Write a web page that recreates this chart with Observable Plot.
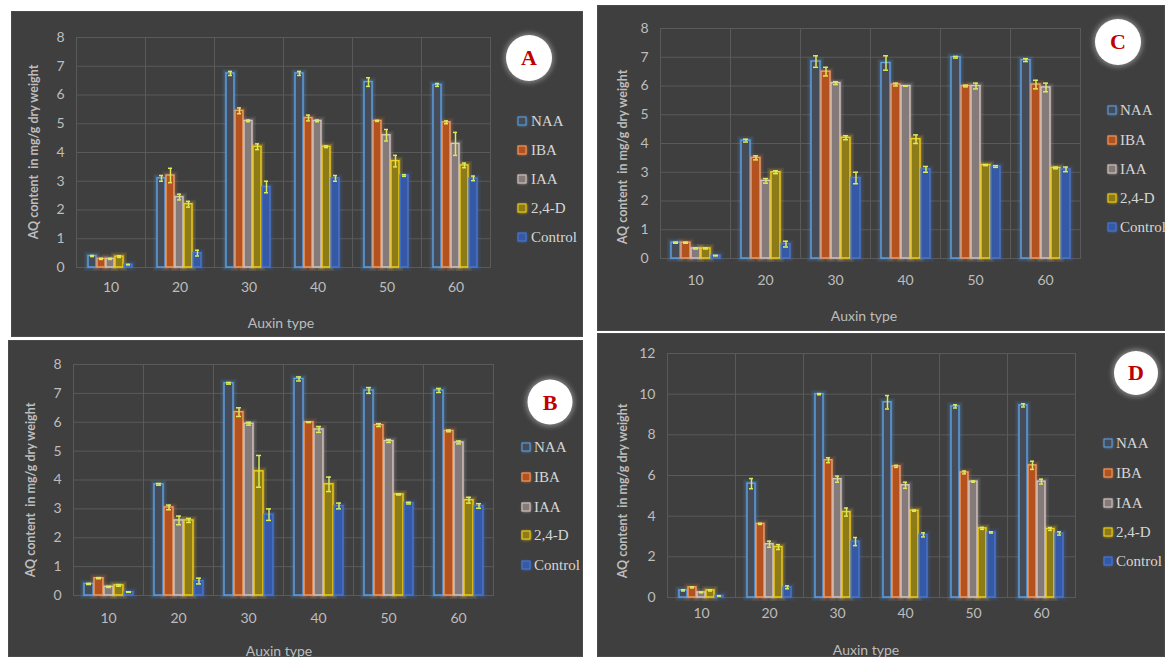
<!DOCTYPE html>
<html>
<head>
<meta charset="utf-8">
<script src="https://cdn.jsdelivr.net/npm/d3@7"></script>
<script src="https://cdn.jsdelivr.net/npm/@observablehq/plot@0.6"></script>
<style>
  html, body { margin: 0; padding: 0; background: #ffffff; }
  body { width: 1165px; height: 657px; overflow: hidden; position: relative; font-family: Lato, "Open Sans", sans-serif; }
  .panel { position: absolute; background: #3f3f3f; overflow: hidden; box-shadow: inset 0 0 0 1px #4b4b4b; }
  .panel svg { position: absolute; left: 0; top: 0; }
  .ytitle { position: absolute; transform: translate(-50%, -50%) rotate(-90deg); white-space: pre; color: #bdbdbd; font: bold 12.5px Lato, sans-serif; }
  .xtitle { position: absolute; transform: translate(-50%, -50%); white-space: nowrap; color: #bdbdbd; font: 14px Lato, sans-serif; }
  .legsq { position: absolute; width: 7px; height: 7px; transform: translate(-50%, -50%); }
  .legtx { position: absolute; transform: translateY(-50%); color: #d6d6d6; font: 15px "Liberation Serif", serif; white-space: nowrap; }
  .circ { position: absolute; border-radius: 50%; background: #ffffff; box-shadow: 0 0 5px 2px rgba(255,255,255,0.35); transform: translate(-50%, -50%);
          display: flex; align-items: center; justify-content: center; color: #c00000; font: bold 22px "Liberation Serif", serif; }
</style>
</head>
<body>
<script>
// ---------- data ----------
const categories = ["10", "20", "30", "40", "50", "60"];
const series = ["NAA", "IBA", "IAA", "2,4-D", "Control"];
const yTitle = "AQ content  in mg/g dry weight";
const xTitle = "Auxin type";

// rows: NAA, IBA, IAA, 2,4-D, Control ; columns: 10..60
const valuesA = [
  [0.40, 3.10, 6.75, 6.75, 6.45, 6.35],
  [0.30, 3.20, 5.45, 5.20, 5.10, 5.05],
  [0.30, 2.45, 5.10, 5.10, 4.60, 4.30],
  [0.38, 2.20, 4.20, 4.20, 3.70, 3.55],
  [0.10, 0.50, 2.80, 3.10, 3.20, 3.10]
];
const errorsA = [
  [0.02, 0.10, 0.07, 0.07, 0.15, 0.05],
  [0.02, 0.25, 0.10, 0.10, 0.02, 0.05],
  [0.02, 0.10, 0.03, 0.03, 0.20, 0.40],
  [0.03, 0.10, 0.10, 0.03, 0.20, 0.08],
  [0.01, 0.10, 0.20, 0.10, 0.03, 0.08]
];
const valuesB = [
  [0.40, 3.85, 7.35, 7.50, 7.10, 7.10],
  [0.60, 3.05, 6.35, 6.00, 5.90, 5.70],
  [0.30, 2.60, 5.95, 5.75, 5.35, 5.30],
  [0.35, 2.60, 4.30, 3.85, 3.50, 3.30],
  [0.12, 0.50, 2.80, 3.10, 3.20, 3.10]
];
const errorsB = [
  [0.02, 0.03, 0.03, 0.07, 0.10, 0.07],
  [0.02, 0.08, 0.15, 0.01, 0.05, 0.03],
  [0.02, 0.15, 0.05, 0.10, 0.05, 0.05],
  [0.03, 0.07, 0.55, 0.25, 0.02, 0.10],
  [0.01, 0.10, 0.20, 0.10, 0.03, 0.08]
];
const valuesC = [
  [0.55, 4.10, 6.85, 6.80, 7.00, 6.90],
  [0.55, 3.50, 6.50, 6.05, 6.00, 6.05],
  [0.35, 2.70, 6.10, 6.00, 6.00, 5.95],
  [0.35, 3.00, 4.20, 4.15, 3.25, 3.15],
  [0.10, 0.50, 2.80, 3.10, 3.20, 3.10]
];
const errorsC = [
  [0.02, 0.05, 0.20, 0.25, 0.03, 0.05],
  [0.02, 0.07, 0.15, 0.05, 0.03, 0.15],
  [0.02, 0.08, 0.05, 0.01, 0.10, 0.15],
  [0.02, 0.05, 0.07, 0.15, 0.02, 0.03],
  [0.01, 0.10, 0.20, 0.10, 0.03, 0.08]
];
const valuesD = [
  [0.35, 5.60, 10.00, 9.60, 9.40, 9.45],
  [0.50, 3.62, 6.75, 6.45, 6.15, 6.50],
  [0.25, 2.62, 5.82, 5.52, 5.70, 5.70],
  [0.35, 2.48, 4.20, 4.27, 3.40, 3.37],
  [0.08, 0.50, 2.75, 3.08, 3.20, 3.15]
];
const errorsD = [
  [0.03, 0.25, 0.03, 0.33, 0.08, 0.08],
  [0.03, 0.03, 0.12, 0.05, 0.07, 0.20],
  [0.02, 0.15, 0.15, 0.15, 0.03, 0.12],
  [0.03, 0.12, 0.20, 0.03, 0.05, 0.07],
  [0.01, 0.07, 0.20, 0.10, 0.03, 0.08]
];

// ---------- styles ----------
const strokeOf = {"NAA": "#5ea3e6", "IBA": "#eda16c", "IAA": "#d8c6c0", "2,4-D": "#f2cf1d", "Control": "#4a78c8"};
const fillOf   = {"NAA": "#454c58", "IBA": "#b4521f", "IAA": "#847a7a", "2,4-D": "#8c7b17", "Control": "#3559a6"};
const glowOf   = {"NAA": "#4f9be6", "IBA": "#e07a35", "IAA": "#bfb0ad", "2,4-D": "#ffd21a", "Control": "#3f6fcf"};
const errColor = "#d9ea5a";
const gridColor = "#5a5a5a";

const panels = [
  {letter: "A", values: valuesA, errors: errorsA, ymax: 8, ticks: d3.range(0, 9, 1),
   left: 11, top: 11, w: 572, h: 326, ml: 62, mr: 91, mt: 26, mb: 70, fxPad: 15,
   yt: [33, 152], xt: [281, 322], sqx: 522, txx: 531, legY: [121, 150, 179, 208, 237], circ: [529, 58, 46]},
  {letter: "C", values: valuesC, errors: errorsC, ymax: 8, ticks: d3.range(0, 9, 1),
   left: 597, top: 5, w: 568, h: 326, ml: 63, mr: 85, mt: 23, mb: 73, fxPad: 17,
   yt: [622, 157], xt: [864, 315], sqx: 1112, txx: 1120, legY: [110, 140, 169, 198, 227], circ: [1118, 42, 46]},
  {letter: "B", values: valuesB, errors: errorsB, ymax: 8, ticks: d3.range(0, 9, 1),
   left: 8, top: 340, w: 575, h: 317, ml: 63, mr: 89, mt: 24, mb: 62, fxPad: 18,
   yt: [30, 490], xt: [279, 650], sqx: 526, txx: 534, legY: [447, 477, 507, 535, 565], circ: [550, 402, 45]},
  {letter: "D", values: valuesD, errors: errorsD, ymax: 12, ticks: d3.range(0, 13, 2),
   left: 597, top: 333, w: 568, h: 324, ml: 68, mr: 88, mt: 20, mb: 60, fxPad: 11,
   yt: [622, 491], xt: [866, 649], sqx: 1108, txx: 1116, legY: [443, 473, 503, 532, 561], circ: [1136, 373, 44]}
];

function el(tag, cls, parent) {
  const e = document.createElement(tag);
  if (cls) e.className = cls;
  parent.appendChild(e);
  return e;
}

for (const p of panels) {
  const rows = [];
  series.forEach((s, i) => categories.forEach((c, j) => rows.push({cat: c, s, v: p.values[i][j], e: p.errors[i][j]})));

  const panel = el("div", "panel", document.body);
  Object.assign(panel.style, {left: p.left + "px", top: p.top + "px", width: p.w + "px", height: p.h + "px"});

  const chart = Plot.plot({
    width: p.w, height: p.h,
    marginLeft: p.ml, marginRight: p.mr, marginTop: p.mt, marginBottom: p.mb,
    style: {background: "transparent", color: "#bdbdbd", fontFamily: "Lato, sans-serif", fontSize: "14px", overflow: "visible"},
    fx: {domain: categories, padding: 0, label: null},
    x: {domain: series, paddingInner: 0.1, paddingOuter: 1.05, axis: null},
    y: {domain: [0, p.ymax], label: null},
    color: {type: "identity"},
    marks: [
      Plot.gridY(p.ticks, {stroke: gridColor, strokeOpacity: 1}),
      Plot.frame({stroke: gridColor, strokeOpacity: 1}),
      Plot.axisY(p.ticks, {tickSize: 0, tickPadding: 12, label: null, fill: "#bdbdbd", fontSize: 14}),
      Plot.axisFx({anchor: "bottom", tickSize: 0, tickPadding: p.fxPad, label: null, fill: "#bdbdbd", fontSize: 14}),
      Plot.barY(rows, {fx: "cat", x: "s", y: "v", fill: "none", stroke: d => glowOf[d.s], strokeWidth: 8, strokeOpacity: 0.1}),
      Plot.barY(rows, {fx: "cat", x: "s", y: "v", fill: "none", stroke: d => glowOf[d.s], strokeWidth: 4.5, strokeOpacity: 0.2}),
      Plot.barY(rows, {fx: "cat", x: "s", y: "v", fill: d => fillOf[d.s], stroke: d => strokeOf[d.s], strokeWidth: 1.4}),
      Plot.ruleX(rows, {fx: "cat", x: "s", y1: d => d.v - d.e, y2: d => d.v + d.e, stroke: errColor, strokeWidth: 1.5}),
      Plot.tickY(rows, {fx: "cat", x: "s", y: d => d.v - d.e, stroke: errColor, strokeWidth: 1.5, insetLeft: 2, insetRight: 2}),
      Plot.tickY(rows, {fx: "cat", x: "s", y: d => d.v + d.e, stroke: errColor, strokeWidth: 1.5, insetLeft: 2, insetRight: 2})
    ]
  });
  panel.appendChild(chart);

  const yt = el("div", "ytitle", panel);
  yt.textContent = yTitle;
  Object.assign(yt.style, {left: (p.yt[0] - p.left) + "px", top: (p.yt[1] - p.top) + "px"});

  const xt = el("div", "xtitle", panel);
  xt.textContent = xTitle;
  Object.assign(xt.style, {left: (p.xt[0] - p.left) + "px", top: (p.xt[1] - p.top) + "px"});

  series.forEach((s, i) => {
    const sq = el("div", "legsq", panel);
    Object.assign(sq.style, {left: (p.sqx - p.left) + "px", top: (p.legY[i] - p.top) + "px",
      background: fillOf[s], border: "1.3px solid " + strokeOf[s], boxShadow: "0 0 3px " + glowOf[s]});
    const tx = el("div", "legtx", panel);
    tx.textContent = s;
    Object.assign(tx.style, {left: (p.txx - p.left) + "px", top: (p.legY[i] - p.top) + "px"});
  });

  const c = el("div", "circ", panel);
  c.textContent = p.letter;
  Object.assign(c.style, {left: (p.circ[0] - p.left) + "px", top: (p.circ[1] - p.top) + "px", width: p.circ[2] + "px", height: p.circ[2] + "px"});
}
</script>
</body>
</html>
